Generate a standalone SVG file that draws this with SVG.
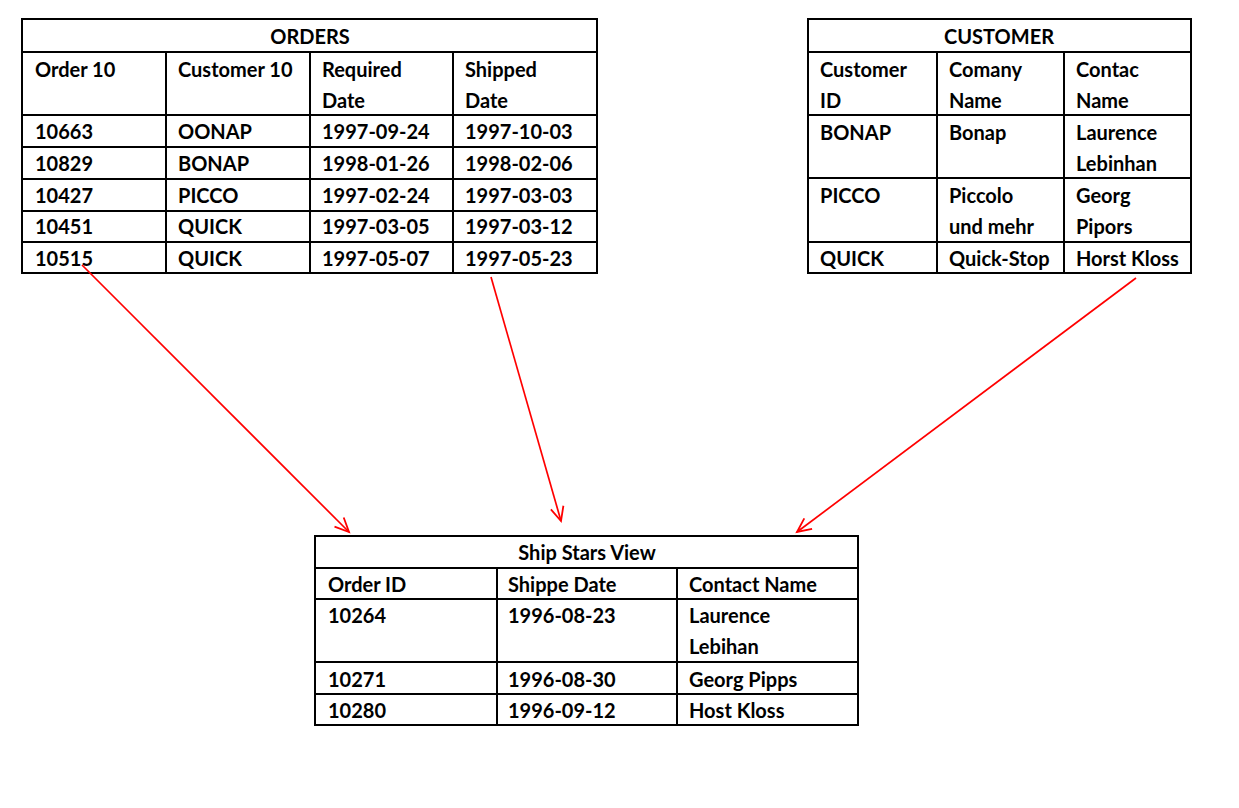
<svg xmlns="http://www.w3.org/2000/svg" width="1239" height="808" viewBox="0 0 1239 808">
<defs>
<marker id="arr" markerUnits="userSpaceOnUse" markerWidth="20" markerHeight="20" refX="15" refY="7" orient="auto" viewBox="0 0 20 14">
<path d="M1,0.5 L15,7 L1,13.5" fill="none" stroke="#ff0000" stroke-width="1.8"/>
</marker>
<style>
.g{fill:none;stroke:#000;stroke-width:2}
.t{font-family:Lato,"Liberation Sans",sans-serif;font-weight:bold;font-size:20px;fill:#000}
.c{text-anchor:middle}
.a{fill:none;stroke:#ff0000;stroke-width:1.7;marker-end:url(#arr)}
</style>
</defs>
<rect width="1239" height="808" fill="#fff"/>

<g id="orders">
<rect class="g" x="22" y="19" width="575" height="254"/>
<path class="g" d="M22,52H597M22,115H597M22,147H597M22,179H597M22,211H597M22,242H597M166,52V273M310,52V273M453,52V273"/>
<text class="t c" x="310" y="44">ORDERS</text>
<text class="t" x="35" y="77">Order 10</text>
<text class="t" x="178" y="77">Customer 10</text>
<text class="t" x="322" y="77">Required</text>
<text class="t" x="322" y="108">Date</text>
<text class="t" x="465" y="77">Shipped</text>
<text class="t" x="465" y="108">Date</text>
<text class="t" x="35" y="139">10663</text><text class="t" x="178" y="139">OONAP</text><text class="t" x="322" y="139">1997-09-24</text><text class="t" x="465" y="139">1997-10-03</text>
<text class="t" x="35" y="171">10829</text><text class="t" x="178" y="171">BONAP</text><text class="t" x="322" y="171">1998-01-26</text><text class="t" x="465" y="171">1998-02-06</text>
<text class="t" x="35" y="203">10427</text><text class="t" x="178" y="203">PICCO</text><text class="t" x="322" y="203">1997-02-24</text><text class="t" x="465" y="203">1997-03-03</text>
<text class="t" x="35" y="234">10451</text><text class="t" x="178" y="234">QUICK</text><text class="t" x="322" y="234">1997-03-05</text><text class="t" x="465" y="234">1997-03-12</text>
<text class="t" x="35" y="266">10515</text><text class="t" x="178" y="266">QUICK</text><text class="t" x="322" y="266">1997-05-07</text><text class="t" x="465" y="266">1997-05-23</text>
</g>

<g id="customer">
<rect class="g" x="808" y="19" width="383" height="254"/>
<path class="g" d="M808,52H1191M808,115H1191M808,178H1191M808,242H1191M937,52V273M1064,52V273"/>
<text class="t c" x="999" y="44">CUSTOMER</text>
<text class="t" x="820" y="77">Customer</text><text class="t" x="820" y="108">ID</text>
<text class="t" x="949" y="77">Comany</text><text class="t" x="949" y="108">Name</text>
<text class="t" x="1076" y="77">Contac</text><text class="t" x="1076" y="108">Name</text>
<text class="t" x="820" y="140">BONAP</text><text class="t" x="949" y="140">Bonap</text><text class="t" x="1076" y="140">Laurence</text><text class="t" x="1076" y="171">Lebinhan</text>
<text class="t" x="820" y="203">PICCO</text><text class="t" x="949" y="203">Piccolo</text><text class="t" x="949" y="234">und mehr</text><text class="t" x="1076" y="203">Georg</text><text class="t" x="1076" y="234">Pipors</text>
<text class="t" x="820" y="266">QUICK</text><text class="t" x="949" y="266">Quick-Stop</text><text class="t" x="1076" y="266">Horst Kloss</text>
</g>

<g id="shipstars">
<rect class="g" x="315" y="536" width="543" height="189"/>
<path class="g" d="M315,568H858M315,599H858M315,662H858M315,694H858M497,568V725M677,568V725"/>
<text class="t c" x="587" y="560">Ship Stars View</text>
<text class="t" x="328" y="592">Order ID</text><text class="t" x="508" y="592">Shippe Date</text><text class="t" x="689" y="592">Contact Name</text>
<text class="t" x="328" y="623">10264</text><text class="t" x="508" y="623">1996-08-23</text><text class="t" x="689" y="623">Laurence</text><text class="t" x="689" y="654">Lebihan</text>
<text class="t" x="328" y="687">10271</text><text class="t" x="508" y="687">1996-08-30</text><text class="t" x="689" y="687">Georg Pipps</text>
<text class="t" x="328" y="718">10280</text><text class="t" x="508" y="718">1996-09-12</text><text class="t" x="689" y="718">Host Kloss</text>
</g>

<g id="connectors">
<line class="a" x1="82" y1="265" x2="349" y2="532"/>
<line class="a" x1="491" y1="277" x2="561" y2="521"/>
<line class="a" x1="1136" y1="278" x2="797" y2="532"/>
</g>
</svg>
